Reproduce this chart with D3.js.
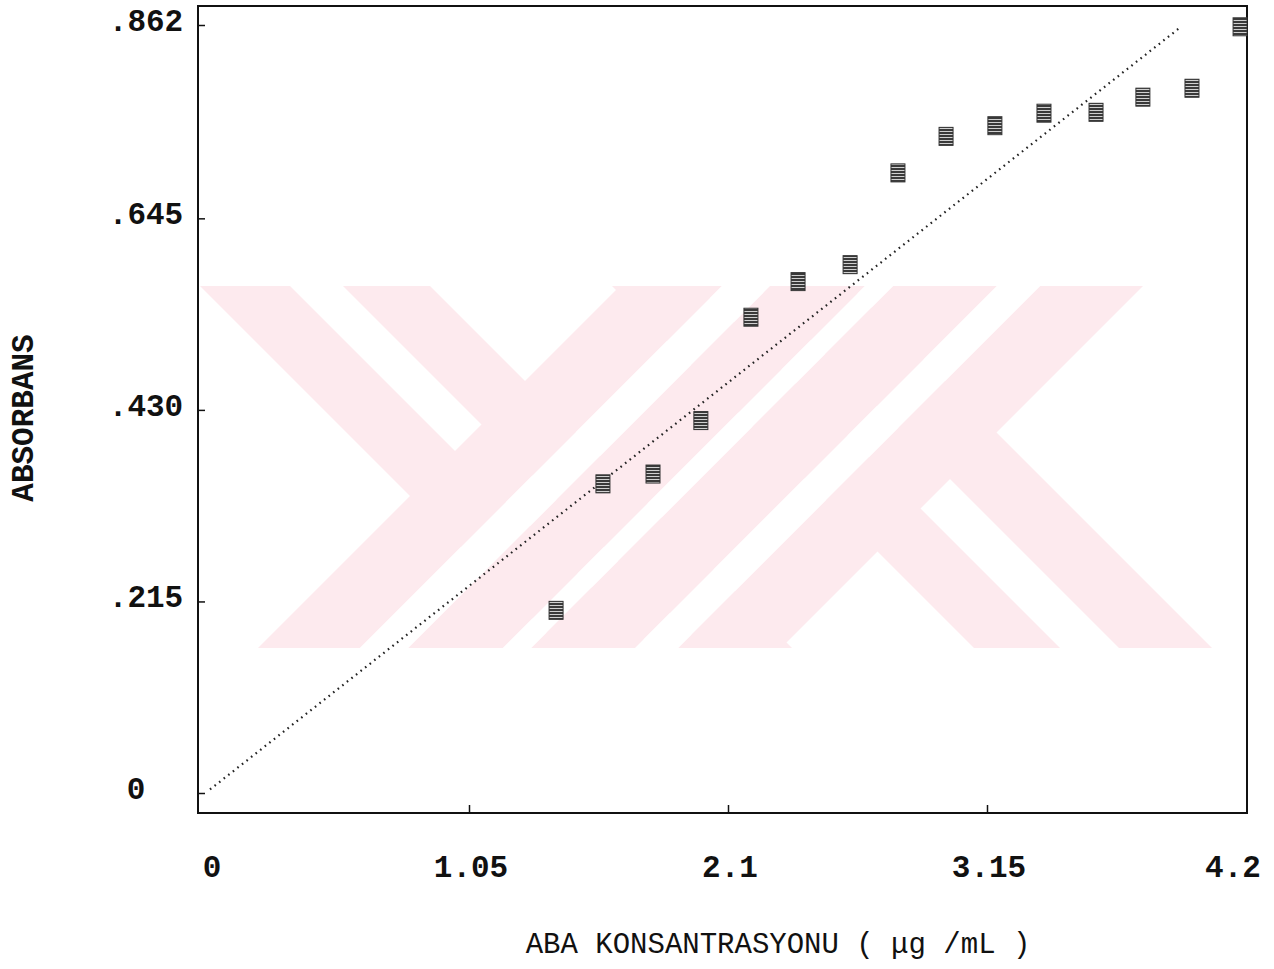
<!DOCTYPE html>
<html>
<head>
<meta charset="utf-8">
<script src="https://cdn.jsdelivr.net/npm/d3@7"></script>
<style>
  body { margin: 0; background: #fff; }
  svg { display: block; }
</style>
</head>
<body>
<svg></svg>
<script>
// measured points (ABA concentration, absorbance)
let concentration = [1.403, 1.593, 1.796, 1.990, 2.193, 2.384, 2.595, 2.789, 2.984, 3.182, 3.381, 3.592, 3.782, 3.981, 4.176];
let absorbance = [0.205, 0.347, 0.358, 0.418, 0.534, 0.574, 0.593, 0.696, 0.737, 0.749, 0.763, 0.764, 0.781, 0.791, 0.860];

// fitted line end points
let fitX = [0, 3.932];
let fitY = [0.004, 0.859];

let xTicks = [0, 1.05, 2.1, 3.15, 4.2];
let xTickLabels = ['0', '1.05', '2.1', '3.15', '4.2'];
let yTicks = [0, 0.215, 0.430, 0.645, 0.862];
let yTickLabels = ['0', '.215', '.430', '.645', '.862'];

// pale watermark stripes, x of the left/right edge at the band top (pixels)
let stripesDown = [[200, 290], [343, 430], [612, 698], [757, 850]];   // "\" direction
let stripesUp = [[620, 722], [770, 865], [893, 997], [1040, 1143]];    // "/" direction

let width = 1274;
let height = 969;

let svg = d3.select('svg')
    .attr('width', width)
    .attr('height', height);

let x = d3.scaleLinear().domain([0, 4.2]).range([210, 1246]);
let y = d3.scaleLinear().domain([0, 0.862]).range([793, 25]);

// hatched fill for the square markers
let defs = svg.append('defs');
let hatch = defs.append('pattern')
    .attr('id', 'hatch')
    .attr('patternUnits', 'userSpaceOnUse')
    .attr('width', 4)
    .attr('height', 3);
hatch.append('rect').attr('width', 4).attr('height', 3).attr('fill', '#3a3a3a');
hatch.append('rect').attr('y', 2).attr('width', 4).attr('height', 1).attr('fill', '#d0d0d0');

// watermark band
let bandTop = 286, bandBottom = 648;
let bandH = bandBottom - bandTop;
let down = d => [[d[0], bandTop], [d[1], bandTop], [d[1] + bandH, bandBottom], [d[0] + bandH, bandBottom]].join(' ');
let up = d => [[d[0], bandTop], [d[1], bandTop], [d[1] - bandH, bandBottom], [d[0] - bandH, bandBottom]].join(' ');

let wm = svg.append('g');
wm.selectAll('polygon.down')
    .data(stripesDown)
    .enter()
    .append('polygon')
    .attr('fill', '#fdeaee')
    .attr('points', down);
wm.selectAll('polygon.up')
    .data(stripesUp)
    .enter()
    .append('polygon')
    .attr('fill', '#fdeaee')
    .attr('points', up);
// the gaps between the "/" stripes cut through everything
let gaps = d3.pairs(stripesUp).map(p => [p[0][1], p[1][0]]);
wm.selectAll('polygon.gap')
    .data(gaps)
    .enter()
    .append('polygon')
    .attr('fill', '#fff')
    .attr('points', up);

// frame
svg.append('rect')
    .attr('x', 198)
    .attr('y', 6)
    .attr('width', 1049)
    .attr('height', 807)
    .attr('fill', 'none')
    .attr('stroke', '#111')
    .attr('stroke-width', 2);

// axes, ticks drawn by d3 then labels placed by hand
let xAxis = d3.axisTop(x).tickValues(xTicks.slice(1, 4)).tickSize(8).tickFormat('');
svg.append('g')
    .attr('transform', 'translate(0,813)')
    .call(xAxis)
    .call(g => g.select('.domain').remove())
    .selectAll('line').attr('stroke', '#111').attr('stroke-width', 1.5);

let yAxis = d3.axisRight(y).tickValues(yTicks).tickSize(7).tickFormat('');
svg.append('g')
    .attr('transform', 'translate(198,0)')
    .call(yAxis)
    .call(g => g.select('.domain').remove())
    .selectAll('line').attr('stroke', '#111').attr('stroke-width', 1.5);

let font = '"Liberation Mono", "Courier New", monospace';

svg.append('g')
    .selectAll('text')
    .data(xTicks)
    .enter()
    .append('text')
    .attr('x', d => Math.min(x(d) + 2, 1233))
    .attr('y', 877)
    .attr('text-anchor', 'middle')
    .style('font-family', font)
    .style('font-weight', 'bold')
    .style('font-size', '31px')
    .attr('fill', '#111')
    .text((d, i) => xTickLabels[i]);

svg.append('g')
    .selectAll('text')
    .data(yTicks)
    .enter()
    .append('text')
    .attr('x', d => d === 0 ? 136 : 146)
    .attr('y', d => y(d) + 6)
    .attr('text-anchor', 'middle')
    .style('font-family', font)
    .style('font-weight', 'bold')
    .style('font-size', '31px')
    .attr('fill', '#111')
    .text((d, i) => yTickLabels[i]);

// axis titles
svg.append('text')
    .attr('x', 778)
    .attr('y', 953)
    .attr('text-anchor', 'middle')
    .style('font-family', font)
    .style('font-size', '29px')
    .attr('fill', '#111')
    .text('ABA KONSANTRASYONU ( μg /mL )');

svg.append('text')
    .attr('transform', 'translate(33,418) rotate(-90)')
    .attr('text-anchor', 'middle')
    .style('font-family', font)
    .style('font-weight', 'bold')
    .style('font-size', '31px')
    .attr('fill', '#111')
    .text('ABSORBANS');

// dotted regression line
let line = d3.line()
    .x(d => x(d[0]))
    .y(d => y(d[1]));
svg.append('path')
    .datum(d3.zip(fitX, fitY))
    .attr('d', line)
    .attr('fill', 'none')
    .attr('stroke', '#222')
    .attr('stroke-width', 2.2)
    .attr('stroke-dasharray', '1.6,4.2');

// hatched square markers
let points = d3.zip(concentration, absorbance);
svg.append('g')
    .selectAll('rect')
    .data(points)
    .enter()
    .append('rect')
    .attr('x', d => x(d[0]) - 7)
    .attr('y', d => y(d[1]) - 9)
    .attr('width', 14)
    .attr('height', 18)
    .attr('fill', 'url(#hatch)')
    .attr('stroke', '#333')
    .attr('stroke-width', 1);
</script>
</body>
</html>
